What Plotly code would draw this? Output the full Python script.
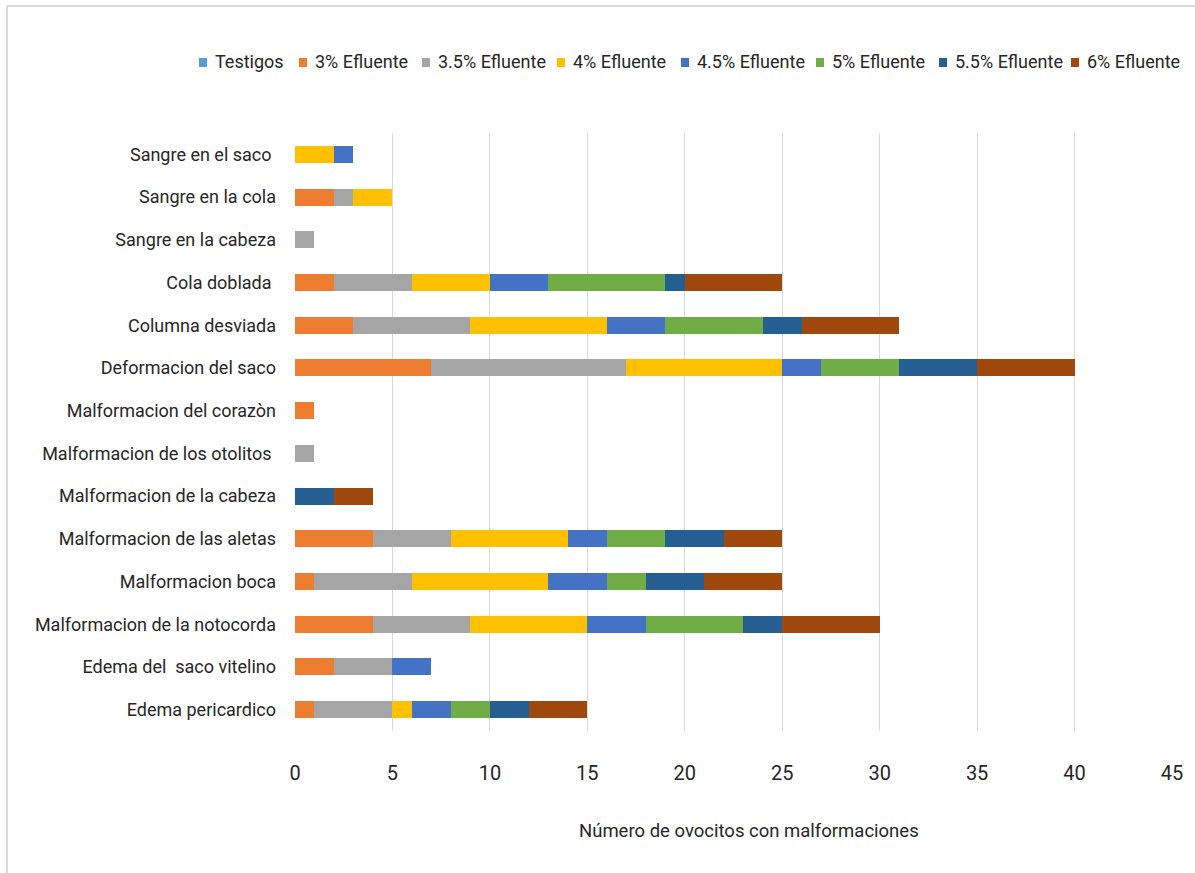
import plotly.graph_objects as go

categories = [
    "Sangre en el saco ",
    "Sangre en la cola",
    "Sangre en la cabeza",
    "Cola doblada ",
    "Columna desviada",
    "Deformacion del saco",
    "Malformacion del corazòn",
    "Malformacion de los otolitos ",
    "Malformacion de la cabeza",
    "Malformacion de las aletas",
    "Malformacion boca",
    "Malformacion de la notocorda",
    "Edema del  saco vitelino",
    "Edema pericardico",
]

series_names = ["Testigos", "3% Efluente", "3.5% Efluente", "4% Efluente",
                "4.5% Efluente", "5% Efluente", "5.5% Efluente", "6% Efluente"]

testigos   = [0, 0, 0, 0, 0, 0, 0, 0, 0, 0, 0, 0, 0, 0]
efl_3      = [0, 2, 0, 2, 3, 7, 1, 0, 0, 4, 1, 4, 2, 1]
efl_3_5    = [0, 1, 1, 4, 6, 10, 0, 1, 0, 4, 5, 5, 3, 4]
efl_4      = [2, 2, 0, 4, 7, 8, 0, 0, 0, 6, 7, 6, 0, 1]
efl_4_5    = [1, 0, 0, 3, 3, 2, 0, 0, 0, 2, 3, 3, 2, 2]
efl_5      = [0, 0, 0, 6, 5, 4, 0, 0, 0, 3, 2, 5, 0, 2]
efl_5_5    = [0, 0, 0, 1, 2, 4, 0, 0, 2, 3, 3, 2, 0, 2]
efl_6      = [0, 0, 0, 5, 5, 5, 0, 0, 2, 3, 4, 5, 0, 3]

colors = ["#5B9BD5", "#ED7D31", "#A5A5A5", "#FFC000",
          "#4472C4", "#70AD47", "#255E91", "#9E480E"]

x_ticks = [0, 5, 10, 15, 20, 25, 30, 35, 40, 45]

FONT = "Roboto, sans-serif"
TEXT = "#262626"

W, H = 1195, 873
L, R, T, B = 295, 23, 133, 142
pw, ph = W - L - R, H - T - B


def px_x(p):
    return (p - L) / pw


def px_y(p):
    return 1 - (p - T) / ph


fig = go.Figure()
for name, vals, col in zip(series_names,
                           [testigos, efl_3, efl_3_5, efl_4, efl_4_5, efl_5, efl_5_5, efl_6],
                           colors):
    fig.add_trace(go.Bar(
        y=categories, x=vals, name=name, orientation="h",
        marker=dict(color=col, line=dict(width=0)),
        showlegend=False,
    ))

# legend row across the top: small colour square followed by the series name
legend_left = [199, 299, 422, 557, 681, 816, 939, 1071]
shapes = []
annotations = []
for name, col, lx in zip(series_names, colors, legend_left):
    shapes.append(dict(type="rect", xref="paper", yref="paper",
                       x0=px_x(lx), x1=px_x(lx + 8), y0=px_y(67), y1=px_y(58),
                       fillcolor=col, line=dict(width=0)))
    annotations.append(dict(text=name, xref="paper", yref="paper",
                            x=px_x(lx + 14), y=px_y(62), xanchor="left",
                            yanchor="middle", showarrow=False,
                            font=dict(size=18, color=TEXT, family=FONT)))

annotations.append(dict(text="Número de ovocitos con malformaciones",
                        xref="paper", yref="paper",
                        x=px_x(749), y=px_y(831), xanchor="center",
                        yanchor="middle", showarrow=False,
                        font=dict(size=18.5, color=TEXT, family=FONT)))

# light frame on the top and left edges
shapes += [
    dict(type="line", xref="paper", yref="paper",
         x0=px_x(7), x1=px_x(1195), y0=px_y(6), y1=px_y(6),
         line=dict(color="#D9D9D9", width=2)),
    dict(type="line", xref="paper", yref="paper",
         x0=px_x(7), x1=px_x(7), y0=px_y(6), y1=px_y(873),
         line=dict(color="#D9D9D9", width=2)),
]

fig.update_layout(
    width=W, height=H,
    margin=dict(l=L, r=R, t=T, b=B),
    barmode="stack",
    bargap=0.6,
    plot_bgcolor="white",
    paper_bgcolor="white",
    font=dict(family=FONT, color=TEXT, size=18),
    showlegend=False,
    xaxis=dict(
        range=[0, 45], tickvals=x_ticks, ticktext=[str(v) for v in x_ticks],
        showgrid=True, gridcolor="#D9D9D9", gridwidth=1,
        zeroline=False, showline=False,
        tickfont=dict(size=20), ticks="",
        ticklabelstandoff=28,
    ),
    yaxis=dict(
        categoryorder="array", categoryarray=categories[::-1],
        showgrid=False, zeroline=False, showline=False,
        tickfont=dict(size=18), ticks="",
        ticklabelstandoff=18,
    ),
    shapes=shapes,
    annotations=annotations,
)

fig.write_html("out.html")
